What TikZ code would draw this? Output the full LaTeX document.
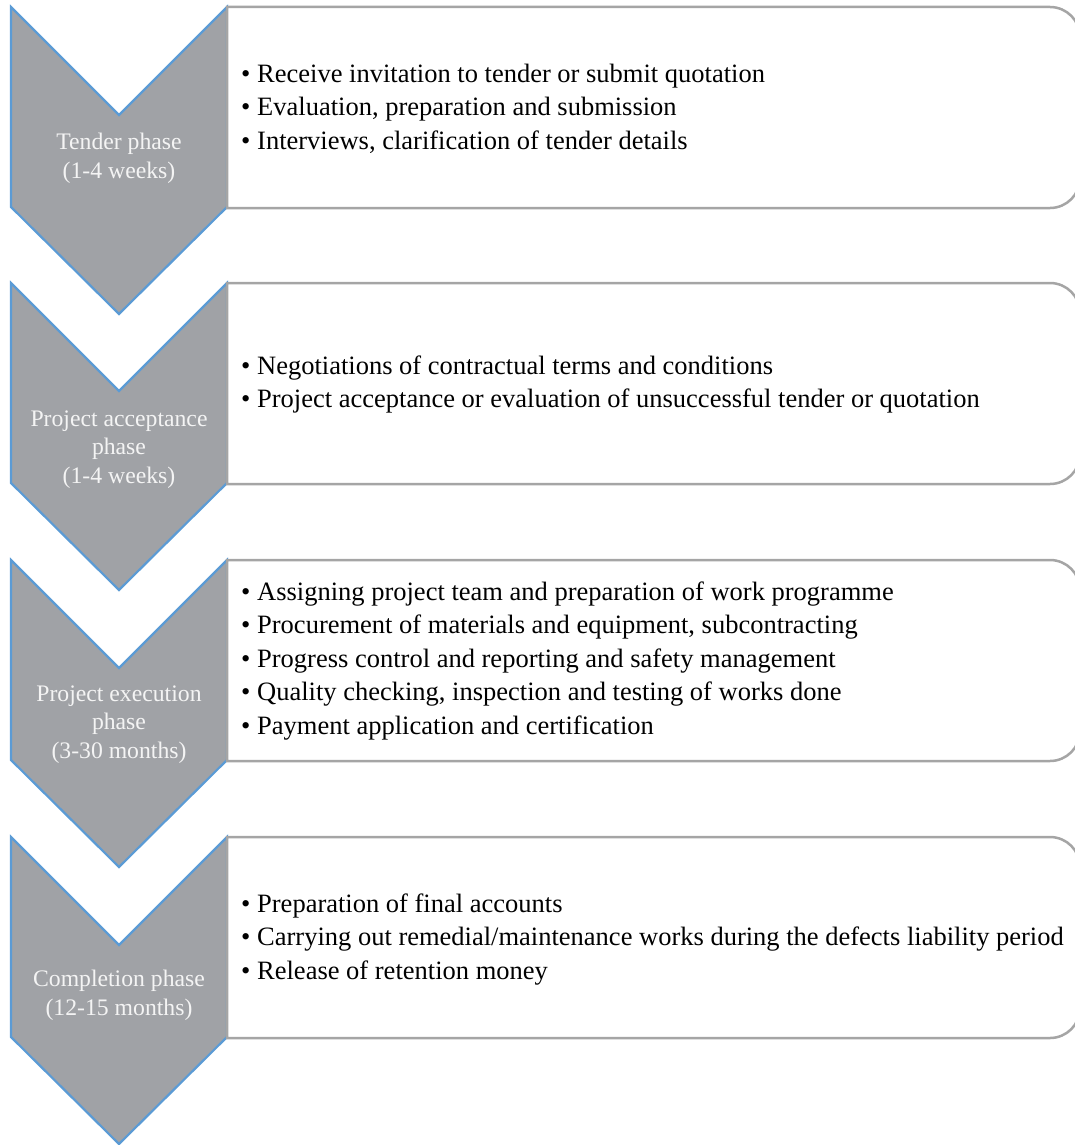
\documentclass[tikz,border=0pt]{standalone}
\usepackage{fontspec}
\setmainfont{Liberation Serif}
\definecolor{chevgray}{RGB}{160,162,166}
\definecolor{chevblue}{RGB}{91,155,213}
\definecolor{boxgray}{RGB}{165,165,165}
\definecolor{chevtext}{RGB}{244,244,244}
\newcommand{\itembullet}{\makebox[16pt][l]{\textbullet}}
\begin{document}
\begin{tikzpicture}[x=1pt,y=-1pt,
  phasefill/.style={fill=chevgray, draw=chevblue, line width=2.2pt, line join=miter},
  boxline/.style={draw=boxgray, fill=white, line width=2.5pt},
  item/.style={anchor=base west, inner sep=0pt, font=\fontsize{26.5}{33.5}\selectfont, text=black},
  phasetext/.style={anchor=base, inner sep=0pt, font=\fontsize{23.7}{29}\selectfont, text=chevtext}]
\useasboundingbox (0,0) rectangle (1075,1145);

% chevrons and the rounded content boxes beside them
\foreach \yt in {7,283,560,837}{
  \draw[phasefill] (11,\yt) -- (119,\yt+108) -- (227,\yt) -- (227,\yt+200)
        -- (119,\yt+307) -- (11,\yt+200) -- cycle;
  \draw[boxline] (227,\yt) -- (1050,\yt)
        .. controls (1066.6,\yt) and (1080,\yt+13.4) .. (1080,\yt+30)
        -- (1080,\yt+171)
        .. controls (1080,\yt+187.6) and (1066.6,\yt+201) .. (1050,\yt+201)
        -- (227,\yt+201) -- cycle;
}

% phase labels
\node[phasetext] (p1a) at (119,149.5) {Tender phase};
\node[phasetext] (p1b) at (119,178) {(1-4 weeks)};

\node[phasetext] (p2a) at (119,426) {Project acceptance};
\node[phasetext] (p2b) at (119,454.5) {phase};
\node[phasetext] (p2c) at (119,483) {(1-4 weeks)};

\node[phasetext] (p3a) at (119,701) {Project execution};
\node[phasetext] (p3b) at (119,729.5) {phase};
\node[phasetext] (p3c) at (119,758) {(3-30 months)};

\node[phasetext] (p4a) at (119,986.5) {Completion phase};
\node[phasetext] (p4b) at (119,1015) {(12-15 months)};

% activities of each phase
\node[item] (t1a) at (241,82.5) {\itembullet Receive invitation to tender or submit quotation};
\node[item] (t1b) at (241,116) {\itembullet Evaluation, preparation and submission};
\node[item] (t1c) at (241,149.5) {\itembullet Interviews, clarification of tender details};

\node[item] (t2a) at (241,374) {\itembullet Negotiations of contractual terms and conditions};
\node[item] (t2b) at (241,407.5) {\itembullet Project acceptance or evaluation of unsuccessful tender or quotation};

\node[item] (t3a) at (241,600) {\itembullet Assigning project team and preparation of work programme};
\node[item] (t3b) at (241,633.5) {\itembullet Procurement of materials and equipment, subcontracting};
\node[item] (t3c) at (241,667) {\itembullet Progress control and reporting and safety management};
\node[item] (t3d) at (241,700.5) {\itembullet Quality checking, inspection and testing of works done};
\node[item] (t3e) at (241,734) {\itembullet Payment application and certification};

\node[item] (t4a) at (241,912) {\itembullet Preparation of final accounts};
\node[item] (t4b) at (241,945.5) {\itembullet Carrying out remedial/maintenance works during the defects liability period};
\node[item] (t4c) at (241,979) {\itembullet Release of retention money};
\end{tikzpicture}
\end{document}
